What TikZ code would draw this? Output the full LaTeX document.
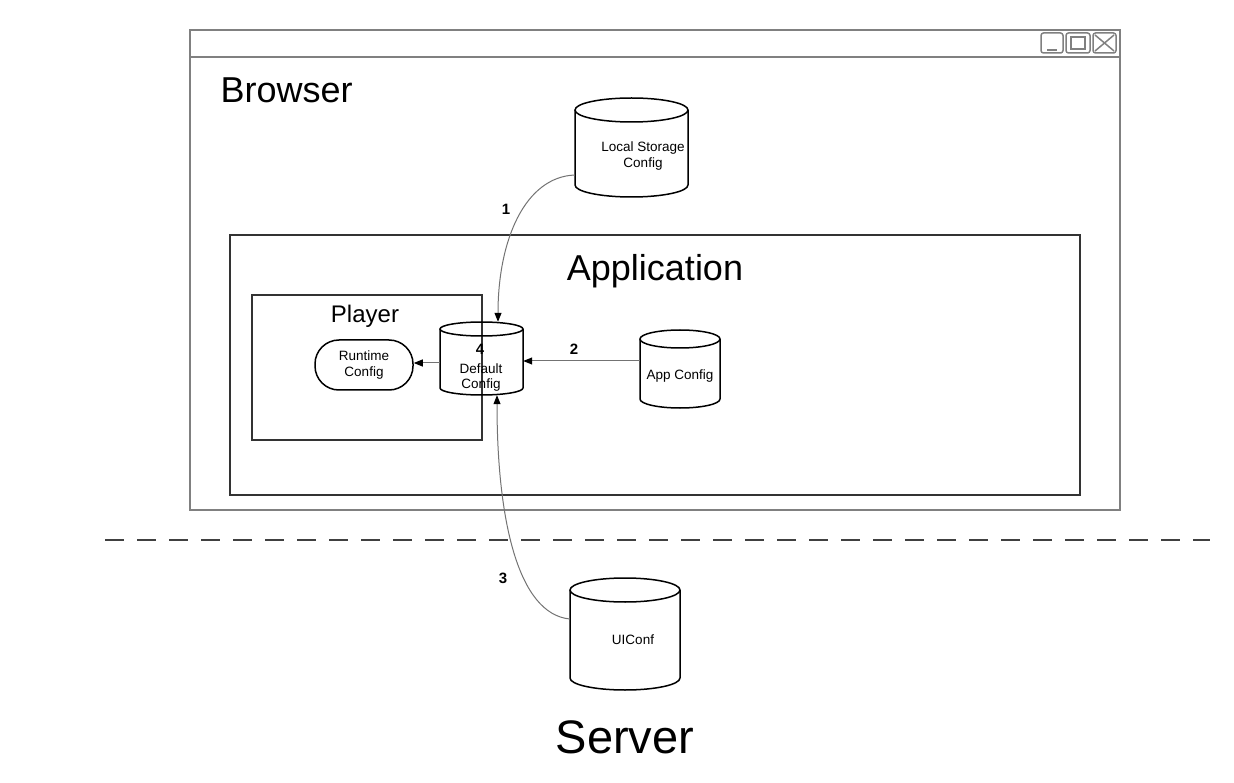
\documentclass[tikz,border=0pt]{standalone}
\usepackage{fontspec}
\setmainfont{Liberation Sans}
\usetikzlibrary{arrows.meta}
\newcommand\mycyl[5]{%
  \draw[cylline] (#1,#2+#5) -- (#1,#4-#5) arc[start angle=180,end angle=360,x radius={(#3-#1)/2*1pt},y radius=#5pt] -- (#3,#2+#5);
  \draw[cylline] ({(#1+#3)/2},#2+#5) ellipse [x radius={(#3-#1)/2*1pt}, y radius=#5pt];
}
\begin{document}
\begin{tikzpicture}[x=1pt,y=-1pt,
  cylline/.style={draw=black,line width=1.5pt},
  win/.style={draw=black!50,line width=1.5pt},
  boxline/.style={draw=black!80,line width=1.8pt},
  big/.style={font=\fontsize{36}{40}\selectfont},
  small/.style={font=\fontsize{13.5}{15.5}\selectfont,align=center},
  lbl/.style={font=\fontsize{15}{17}\selectfont\bfseries},
  anchorbox/.style={rectangle,inner sep=0pt},
  conn/.style={draw=black!55,line width=1pt,-{Triangle[length=9pt,width=7pt,color=black]}},
]
\useasboundingbox (0,0) rectangle (1234,783);
% browser window
\draw[win] (190,30) rectangle (1120,510);
\draw[win] (190,57) -- (1120,57);
\draw[win,rounded corners=2.5pt] (1041,33) rectangle (1063,53);
\draw[win] (1047,50) -- (1057,50);
\draw[win,rounded corners=2.5pt] (1066,33) rectangle (1090,53);
\draw[win] (1071,37) rectangle (1085,49);
\draw[win,rounded corners=2.5pt] (1093,33) rectangle (1116,53);
\draw[win] (1095,35) -- (1114,51) (1095,51) -- (1114,35);
\node[big,anchor=west] (browser) at (217,90) {Browser};
% application
\draw[boxline] (230,235) rectangle (1080,495);
\node[big] (application) at (655,271) {Application};
% player
\draw[boxline] (252,295) rectangle (482,440);
\node[font=\fontsize{24}{28}\selectfont] (player) at (365,316) {Player};
\node[draw=black,line width=1.5pt,rounded corners=24pt,minimum width=98pt,minimum height=50pt,small] (rc) at (364,365) {Runtime\\Config};
% cylinders
\mycyl{440}{322}{523}{395}{7}
\node[anchorbox,minimum width=83pt,minimum height=73pt] (dc) at (481.5,358.5) {};
\node[small] (dctext) at (481,377.5) {Default\\Config};
\node[lbl] (four) at (480,349) {4};
\mycyl{640}{330}{720}{408}{9}
\node[anchorbox,minimum width=80pt,minimum height=78pt] (ac) at (680,369) {};
\node[small] (actext) at (680,376) {App Config};
\mycyl{575}{98}{688}{197}{12}
\node[anchorbox,minimum width=113pt,minimum height=99pt] (ls) at (631.5,147.5) {};
\node[small] (lstext) at (643,156) {Local Storage\\Config};
\mycyl{570}{578}{680}{690}{12}
\node[anchorbox,minimum width=110pt,minimum height=112pt] (ui) at (625,634) {};
\node[small] (uitext) at (633,640) {UIConf};
% separator
\draw[draw=black!75,line width=2.5pt,dash pattern=on 19pt off 13pt] (105,540) -- (1210,540);
\node[font=\fontsize{47}{50}\selectfont] (server) at (625,737) {Server};
% connectors
\draw[conn] (ls.west |- 0,175) .. controls (525,177) and (498,240) .. (dc.north -| 498,0);
\draw[conn] (ac.west |- 0,361) -- (dc.east |- 0,361);
\draw[conn] (dc.west |- 0,363) -- (rc.east |- 0,363);
\draw[conn] (ui.west |- 0,619) .. controls (518,614) and (497,520) .. (dc.south -| 497,0);
\node[lbl] (l1) at (506,209) {1};
\node[lbl] (l2) at (574,349) {2};
\node[lbl] (l3) at (503,578) {3};
\end{tikzpicture}
\end{document}
